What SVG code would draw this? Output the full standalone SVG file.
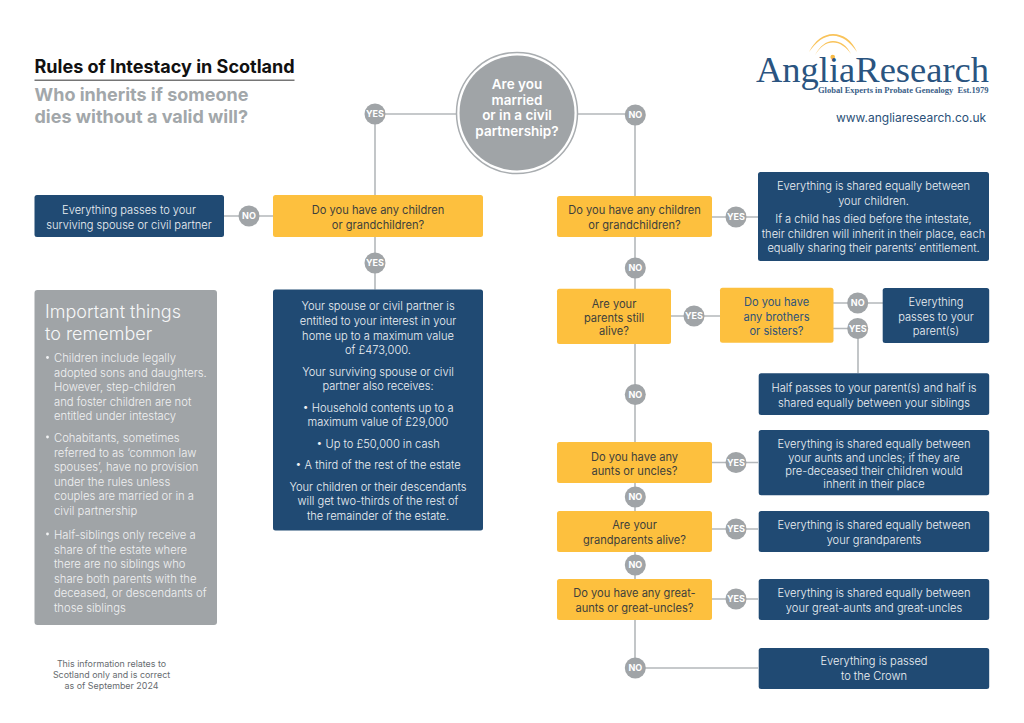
<svg xmlns="http://www.w3.org/2000/svg" width="1024" height="723" viewBox="0 0 1024 723">
<style>
text{font-family:"Inter","Liberation Sans",sans-serif;text-anchor:middle}
.q{fill:#fdc03e}.a{fill:#204a73}.c{fill:#a0a4a7}
.qt{font-size:11.1px;fill:#3d3f3c}.at{font-size:11.1px;font-weight:300;fill:#eef1f4}
.lb{font-size:9px;font-weight:700;fill:#fff}
.gt{font-size:11.25px;font-weight:300;fill:#f0f1f2;text-anchor:start}
.ln{fill:none;stroke:#b4b8bb;stroke-width:1.6}
</style>
<rect width="1024" height="723" fill="#fff"/>
<g id="title">
<text x="34.5" y="72.500" style="text-anchor:start;font-size:18.05px;font-weight:700;fill:#111">Rules of Intestacy in Scotland</text>
<rect x="34.5" y="79.6" width="260" height="1.2" fill="#555"/>
<text x="34.5" y="101" style="text-anchor:start;font-size:18px;font-weight:700;fill:#a2a7aa">Who inherits if someone</text>
<text x="34.5" y="123" style="text-anchor:start;font-size:18px;font-weight:700;fill:#a2a7aa">dies without a valid will?</text>
</g>
<g id="logo">
<path d="M809 52C815 40 824 34 833 34C843 34 852 40 857 52C850 42 842 35.800 833 35.800C824 35.800 816 42 809 52Z" fill="#f9c35a"/>
<path d="M815 55C820 46 826 41 833 41C841 41 847 46 851 54C846 47 840 42.500 833 42.500C826 42.500 820 47 815 55Z" fill="#f9c35a"/>
<circle cx="832.7" cy="57" r="2.300" fill="#f7bb45"/>
<text x="756" y="81.500" textLength="233" lengthAdjust="spacingAndGlyphs" style="text-anchor:start;font-family:'Liberation Serif',serif;font-size:35px;fill:#2a5480">AngliaResearch</text>
<text x="818" y="93" textLength="170.500" lengthAdjust="spacingAndGlyphs" style="text-anchor:start;font-family:'Liberation Serif',serif;font-size:8.500px;font-weight:700;fill:#3a6088" xml:space="preserve">Global Experts in Probate Genealogy  Est.1979</text>
<text x="911" y="122" style="font-size:12px;fill:#2a5078">www.angliaresearch.co.uk</text>
</g>
<g id="connectors">
<path class="ln" d="M456 114H375V195M375 237V289.500M273 216H224"/>
<path class="ln" d="M578 114H635V196M635 237V289M635 344V442M635 483V511M635 552V579M635 620V668H758"/>
<path class="ln" d="M712 217H758M671 316H720M833 303H883M833 328.500H858V373M712 462.500H758M712 529H758M712 599H758"/>
</g>
<g id="start">
<circle cx="517" cy="113" r="60.500" fill="#fff" stroke="#a9adb0" stroke-width="1.500"/>
<circle cx="517" cy="113" r="57.500" class="c"/>
<g style="font-size:13.500px;font-weight:600;fill:#fff">
<text x="517" y="89">Are you</text><text x="517" y="104.500">married</text><text x="517" y="120">or in a civil</text><text x="517" y="136">partnership?</text>
</g>
</g>
<g id="left-no-result"><rect class="a" x="34.500" y="195" width="189.500" height="42" rx="2.500"/><text class="at" x="129" y="214">Everything passes to your</text><text class="at" x="129" y="228.500">surviving spouse or civil partner</text></g>
<g id="left-question"><rect class="q" x="273" y="195" width="210" height="42" rx="2.500"/><text class="qt" x="378" y="214">Do you have any children</text><text class="qt" x="378" y="228.500">or grandchildren?</text></g>
<g id="left-yes-result"><rect class="a" x="273" y="289.500" width="210" height="241" rx="2.500"/>
<text class="at" x="378" y="310">Your spouse or civil partner is</text>
<text class="at" x="378" y="325">entitled to your interest in your</text>
<text class="at" x="378" y="339.500">home up to a maximum value</text>
<text class="at" x="378" y="354">of £473,000.</text>
<text class="at" x="378" y="375.500">Your surviving spouse or civil</text>
<text class="at" x="378" y="390">partner also receives:</text>
<text class="at" x="378" y="411.500">• Household contents up to a</text>
<text class="at" x="378" y="426">maximum value of £29,000</text>
<text class="at" x="378" y="447.500">• Up to £50,000 in cash</text>
<text class="at" x="378" y="469">• A third of the rest of the estate</text>
<text class="at" x="378" y="490.500">Your children or their descendants</text>
<text class="at" x="378" y="505">will get two-thirds of the rest of</text>
<text class="at" x="378" y="520">the remainder of the estate.</text>
</g>
<g id="notes"><rect class="c" x="34.500" y="290" width="182.500" height="335" rx="3"/>
<text x="45" y="318" style="text-anchor:start;font-size:18px;font-weight:300;fill:#f6f7f8">Important things</text>
<text x="45" y="340" style="text-anchor:start;font-size:18px;font-weight:300;fill:#f6f7f8">to remember</text>
<circle cx="47.500" cy="357.500" r="1.400" fill="#f2f3f4"/><circle cx="47.500" cy="437" r="1.400" fill="#f2f3f4"/><circle cx="47.500" cy="534" r="1.400" fill="#f2f3f4"/>
<text class="gt" x="54" y="362">Children include legally</text>
<text class="gt" x="54" y="376.500">adopted sons and daughters.</text>
<text class="gt" x="54" y="391">However, step-children</text>
<text class="gt" x="54" y="405.500">and foster children are not</text>
<text class="gt" x="54" y="420">entitled under intestacy</text>
<text class="gt" x="54" y="442">Cohabitants, sometimes</text>
<text class="gt" x="54" y="456.500">referred to as ‘common law</text>
<text class="gt" x="54" y="471">spouses’, have no provision</text>
<text class="gt" x="54" y="485.500">under the rules unless</text>
<text class="gt" x="54" y="500">couples are married or in a</text>
<text class="gt" x="54" y="515">civil partnership</text>
<text class="gt" x="54" y="539">Half-siblings only receive a</text>
<text class="gt" x="54" y="553.500">share of the estate where</text>
<text class="gt" x="54" y="568">there are no siblings who</text>
<text class="gt" x="54" y="582.500">share both parents with the</text>
<text class="gt" x="54" y="597">deceased, or descendants of</text>
<text class="gt" x="54" y="612">those siblings</text>
</g>
<g id="disclaimer" style="font-size:8.900px;fill:#666b6f">
<text x="111.500" y="667">This information relates to</text><text x="111.500" y="678">Scotland only and is correct</text><text x="111.500" y="689">as of September 2024</text>
</g>
<g id="q1"><rect class="q" x="557" y="196" width="155" height="41" rx="2.500"/><text class="qt" x="634.500" y="214">Do you have any children</text><text class="qt" x="634.500" y="228.500">or grandchildren?</text></g>
<g id="r1"><rect class="a" x="758" y="172" width="231" height="89" rx="2.500"/>
<text class="at" x="873.500" y="190">Everything is shared equally between</text><text class="at" x="873.500" y="205">your children.</text>
<text class="at" x="873.500" y="223">If a child has died before the intestate,</text><text class="at" x="873.500" y="237.500">their children will inherit in their place, each</text><text class="at" x="873.500" y="252">equally sharing their parents’ entitlement.</text></g>
<g id="q2"><rect class="q" x="557" y="288.700" width="114" height="55.300" rx="2.500"/><text class="qt" x="614" y="308">Are your</text><text class="qt" x="614" y="321.500">parents still</text><text class="qt" x="614" y="335">alive?</text></g>
<g id="q3"><rect class="q" x="720" y="287.700" width="113.500" height="55" rx="2.500"/><g style="font-size:11.100px;fill:#2f5379"><text x="776.500" y="306">Do you have</text><text x="776.500" y="320.500">any brothers</text><text x="776.500" y="335">or sisters?</text></g></g>
<g id="r3"><rect class="a" x="882.700" y="288" width="106.500" height="55" rx="2.500"/><text class="at" x="936" y="306">Everything</text><text class="at" x="936" y="320.500">passes to your</text><text class="at" x="936" y="335">parent(s)</text></g>
<g id="r2"><rect class="a" x="758.700" y="373.300" width="230.500" height="41.700" rx="2.500"/><text class="at" x="874" y="392">Half passes to your parent(s) and half is</text><text class="at" x="874" y="406.500">shared equally between your siblings</text></g>
<g id="q4"><rect class="q" x="557" y="442" width="155" height="41" rx="2.500"/><text class="qt" x="634.500" y="461">Do you have any</text><text class="qt" x="634.500" y="474.500">aunts or uncles?</text></g>
<g id="r4"><rect class="a" x="758.700" y="430" width="230.500" height="65.300" rx="2.500"/><text class="at" x="874" y="448">Everything is shared equally between</text><text class="at" x="874" y="461.500">your aunts and uncles; if they are</text><text class="at" x="874" y="474.500">pre-deceased their children would</text><text class="at" x="874" y="488">inherit in their place</text></g>
<g id="q5"><rect class="q" x="557" y="511" width="155" height="41" rx="2.500"/><text class="qt" x="634.500" y="529">Are your</text><text class="qt" x="634.500" y="543.500">grandparents alive?</text></g>
<g id="r5"><rect class="a" x="758.700" y="511" width="230.500" height="41" rx="2.500"/><text class="at" x="874" y="529">Everything is shared equally between</text><text class="at" x="874" y="543.500">your grandparents</text></g>
<g id="q6"><rect class="q" x="557" y="579" width="155" height="41" rx="2.500"/><text class="qt" x="634.500" y="597">Do you have any great-</text><text class="qt" x="634.500" y="611.500">aunts or great-uncles?</text></g>
<g id="r6"><rect class="a" x="758.700" y="579" width="230.500" height="41" rx="2.500"/><text class="at" x="874" y="597">Everything is shared equally between</text><text class="at" x="874" y="611.500">your great-aunts and great-uncles</text></g>
<g id="r7"><rect class="a" x="758.700" y="648" width="230.500" height="41" rx="2.500"/><text class="at" x="874" y="665">Everything is passed</text><text class="at" x="874" y="680">to the Crown</text></g>
<g id="badges">
<g id="b1"><circle class="c" cx="375" cy="114" r="10.500"/><text class="lb" x="375" y="117.300">YES</text></g>
<g id="b2"><circle class="c" cx="249" cy="216" r="10.500"/><text class="lb" x="249" y="219.300">NO</text></g>
<g id="b3"><circle class="c" cx="375" cy="263" r="10.500"/><text class="lb" x="375" y="266.300">YES</text></g>
<g id="b4"><circle class="c" cx="635.300" cy="115" r="10.500"/><text class="lb" x="635.300" y="118.300">NO</text></g>
<g id="b5"><circle class="c" cx="736" cy="217" r="10.500"/><text class="lb" x="736" y="220.300">YES</text></g>
<g id="b6"><circle class="c" cx="635.300" cy="268" r="10.500"/><text class="lb" x="635.300" y="271.300">NO</text></g>
<g id="b7"><circle class="c" cx="694" cy="316" r="10.500"/><text class="lb" x="694" y="319.300">YES</text></g>
<g id="b8"><circle class="c" cx="857.700" cy="303" r="10.500"/><text class="lb" x="857.700" y="306.300">NO</text></g>
<g id="b9"><circle class="c" cx="857.700" cy="328.500" r="10.500"/><text class="lb" x="857.700" y="331.800">YES</text></g>
<g id="b10"><circle class="c" cx="635.300" cy="394.500" r="10.500"/><text class="lb" x="635.300" y="397.800">NO</text></g>
<g id="b11"><circle class="c" cx="736" cy="462.500" r="10.500"/><text class="lb" x="736" y="465.800">YES</text></g>
<g id="b12"><circle class="c" cx="635.300" cy="497" r="10.500"/><text class="lb" x="635.300" y="500.300">NO</text></g>
<g id="b13"><circle class="c" cx="736" cy="529" r="10.500"/><text class="lb" x="736" y="532.300">YES</text></g>
<g id="b14"><circle class="c" cx="635.300" cy="565" r="10.500"/><text class="lb" x="635.300" y="568.300">NO</text></g>
<g id="b15"><circle class="c" cx="736" cy="599" r="10.500"/><text class="lb" x="736" y="602.300">YES</text></g>
<g id="b16"><circle class="c" cx="635.300" cy="668" r="10.500"/><text class="lb" x="635.300" y="671.300">NO</text></g>
</g>
</svg>
